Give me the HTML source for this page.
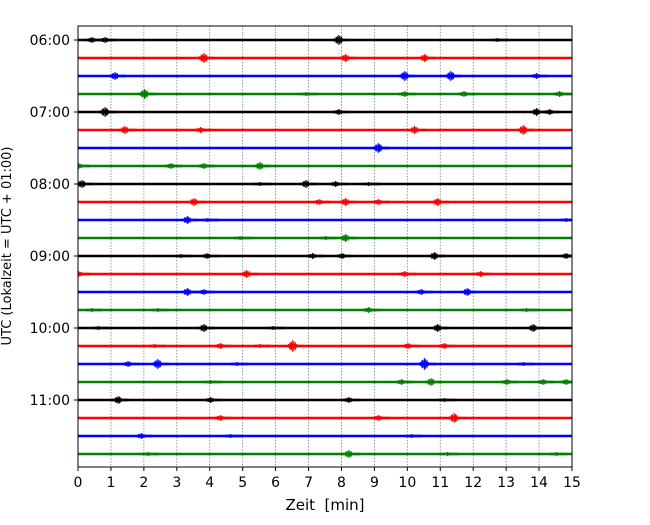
<!DOCTYPE html>
<html><head><meta charset="utf-8"><style>
body{margin:0;background:#fff}
text{font-family:"DejaVu Sans","Liberation Sans",sans-serif}
</style></head><body>
<svg id="c" width="650" height="520" viewBox="0 0 650 520">
<defs><clipPath id="clip"><rect x="78" y="26" width="494" height="441"/></clipPath></defs>
<rect x="0" y="0" width="650" height="520" fill="#fff"/>
<g id="grid"></g><g id="traces" clip-path="url(#clip)"></g><g id="axes"></g>
</svg>
<script>
const hourLabels=["06:00","07:00","08:00","09:00","10:00","11:00"];
const xTicks=[0,1,2,3,4,5,6,7,8,9,10,11,12,13,14,15];
const colors=["#000000","#ff0000","#0000ff","#008000"];
// bursts per trace: [minute, half-amplitude in px]
const bursts=[
[[0.5,3],[0.9,3],[8.0,5],[12.8,2]],
[[3.9,5],[8.2,4],[10.6,4]],
[[1.2,4],[10.0,5],[11.4,5],[14.0,3]],
[[2.1,5],[7.0,2],[10.0,3],[11.8,3],[14.7,3]],
[[0.9,5],[8.0,3],[14.0,4],[14.4,3]],
[[1.5,4],[3.8,3],[10.3,4],[13.6,5]],
[[9.2,5]],
[[0.1,3],[2.9,3],[3.9,3],[5.6,4]],
[[0.2,4],[5.6,2],[7.0,4],[7.9,3],[8.9,2]],
[[3.6,4],[7.4,3],[8.2,4],[9.2,3],[11.0,4]],
[[3.4,4],[4.0,2],[14.9,2]],
[[5.0,2],[7.6,2],[8.2,4]],
[[3.2,2],[4.0,3],[7.2,3],[8.1,3],[10.9,4],[14.9,3]],
[[0.1,3],[5.2,4],[10.0,3],[12.3,3]],
[[3.4,4],[3.9,3],[10.5,3],[11.9,4]],
[[0.5,2],[2.5,2],[8.9,3],[13.7,2]],
[[0.7,2],[3.9,4],[6.0,2],[11.0,4],[13.9,4]],
[[2.4,2],[4.4,3],[5.6,2],[6.6,6],[10.1,3],[11.2,3]],
[[1.6,3],[2.5,5],[4.9,2],[10.6,6],[13.6,2]],
[[4.1,2],[9.9,3],[10.8,4],[13.1,3],[14.2,3],[14.9,3]],
[[1.3,4],[4.1,3],[8.3,3],[11.2,2]],
[[4.4,3],[9.2,3],[11.5,5]],
[[2.0,3],[4.7,2],[10.2,2]],
[[2.2,2],[8.3,4],[11.3,2],[14.6,2]]
];
const L=78,R=572,T=26,B=467,Y0=40,DY=18;
const xs=m=>L+(R-L)*m/15;
const ys=i=>Y0+DY*i;
const NS="http://www.w3.org/2000/svg";
function mk(tag,attrs,parent){const e=document.createElementNS(NS,tag);for(const k in attrs)e.setAttribute(k,attrs[k]);parent.appendChild(e);return e;}
const grid=document.getElementById('grid'),tr=document.getElementById('traces'),ax=document.getElementById('axes');
xTicks.forEach(t=>{
  const g=mk('line',{x1:xs(t),x2:xs(t),y1:T,y2:B,stroke:'#808080','stroke-width':0.8,'stroke-dasharray':'1.5,1.5'},grid);
  
  
});
const jig=[1,0.6,0.9,0.5,1,0.7,0.8,0.4];
bursts.forEach((row,i)=>{
  const y=ys(i),col=colors[i%4];
  const base=mk('line',{x1:L,x2:R,y1:y,y2:y,stroke:col,'stroke-width':2.4},tr);
  
  
  row.forEach((b,j)=>{
    const cx=xs(b[0]),a=b[1];let d='';
    const w=16;
    for(let k=0;k<=24;k++){const x=cx-w/2+w*k/24;const env=a*Math.exp(-Math.pow((k-8)/6,2))*jig[k%8];const h=Math.max(env,1.3);d+='M'+x.toFixed(1)+' '+(y-h).toFixed(1)+'V'+(y+h).toFixed(1);}
    const p=mk('path',{d:d,fill:'none',stroke:col,'stroke-width':1},tr);
    
    
  });
});
const fr=mk('rect',{x:L,y:T,width:R-L,height:B-T,fill:'none',stroke:'#000','stroke-width':1},ax);


xTicks.forEach(t=>{
  mk('line',{x1:xs(t),x2:xs(t),y1:B,y2:B+4,stroke:'#000'},ax);
  const tx=mk('text',{x:xs(t),y:B+20,'text-anchor':'middle','font-size':14},ax);
  tx.textContent=t;
  
  
});
hourLabels.forEach((h,k)=>{
  const y=ys(k*4);
  mk('line',{x1:L-4,x2:L,y1:y,y2:y,stroke:'#000'},ax);
  const tx=mk('text',{x:L-8,y:y+5,'text-anchor':'end','font-size':14},ax);
  tx.textContent=h;
  
  
});
const xt=mk('text',{x:325,y:510,'text-anchor':'middle','font-size':15},ax);
xt.textContent='Zeit\u00a0\u00a0[min]';


const yt=mk('text',{x:11,y:246,'text-anchor':'middle','font-size':13,transform:'rotate(-90 11 246)'},ax);
yt.textContent='UTC (Lokalzeit = UTC + 01:00)';


</script>
</body></html>
